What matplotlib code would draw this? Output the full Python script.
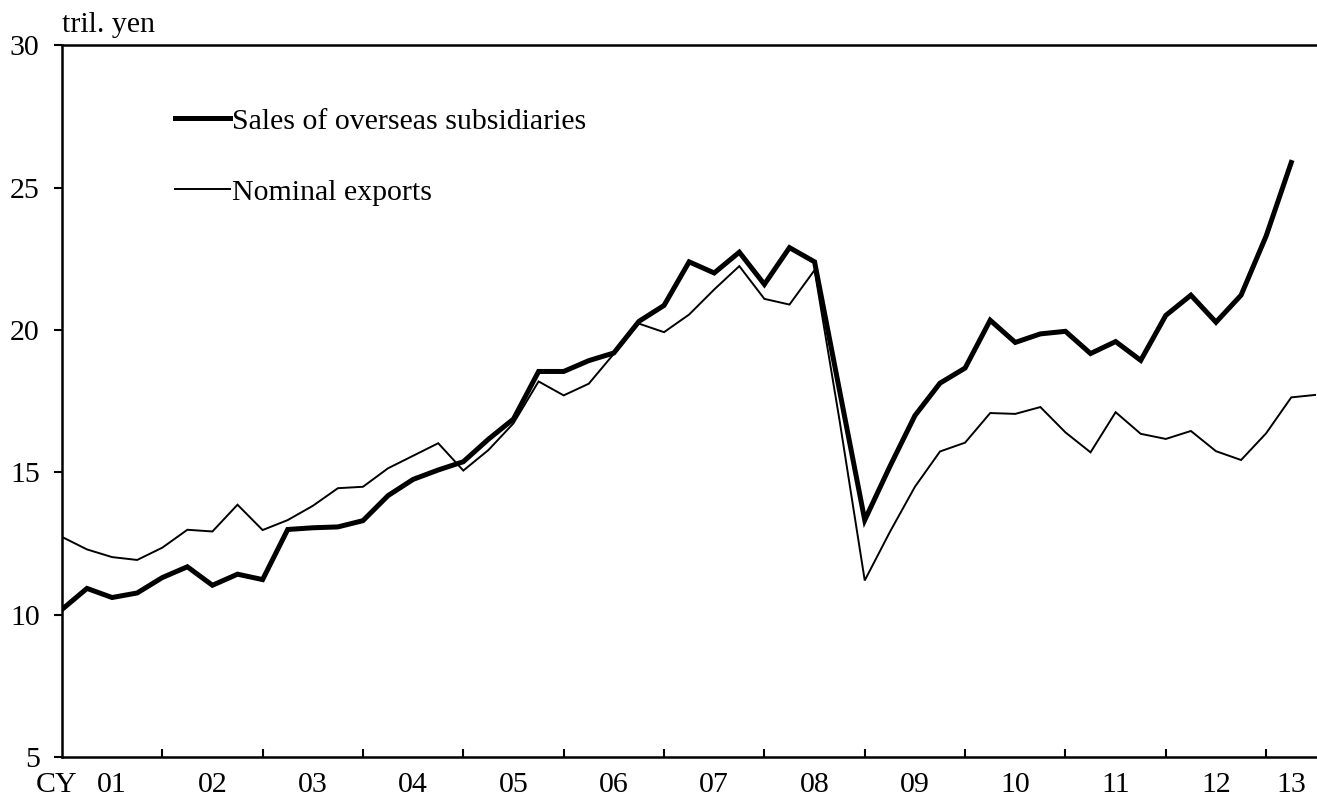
import matplotlib
matplotlib.use('Agg')
from matplotlib import pyplot as plt
import numpy as np

plt.rcParams['font.family'] = ['Liberation Serif', 'DejaVu Serif']

# quarterly data, CY2001 Q1 onwards (tril. yen)
sales_overseas = [10.18, 10.92, 10.60, 10.76, 11.30, 11.68, 11.03, 11.42,
                  11.23, 12.99, 13.05, 13.08, 13.30, 14.18, 14.75, 15.08,
                  15.37, 16.16, 16.87, 18.54, 18.54, 18.92, 19.19, 20.30,
                  20.86, 22.39, 22.00, 22.73, 21.60, 22.89, 22.39, 17.85,
                  13.32, 15.20, 16.99, 18.13, 18.66, 20.34, 19.56, 19.86,
                  19.95, 19.17, 19.59, 18.93, 20.51, 21.22, 20.27, 21.22,
                  23.30, 25.88]
nominal_exports = [12.73, 12.29, 12.02, 11.92, 12.35, 12.98, 12.92, 13.86,
                   12.97, 13.32, 13.82, 14.44, 14.49, 15.14, 15.58, 16.02,
                   15.06, 15.78, 16.72, 18.19, 17.70, 18.11, 19.16, 20.22,
                   19.92, 20.54, 21.42, 22.24, 21.09, 20.89, 22.10, 16.80,
                   11.20, 12.90, 14.49, 15.73, 16.04, 17.08, 17.05, 17.29,
                   16.40, 15.70, 17.11, 16.35, 16.17, 16.45, 15.74, 15.43,
                   16.37, 17.63, 17.72]
year_labels = ['01', '02', '03', '04', '05', '06', '07', '08', '09', '10',
               '11', '12', '13']
y_ticks = [5, 10, 15, 20, 25, 30]

fs = 21.5
fig = plt.figure(figsize=(13.17, 8.07), dpi=100)
ax = fig.add_axes([0.047, 0.062, 0.9525, 0.882])

ax.plot(np.arange(len(sales_overseas)), sales_overseas, color='black',
        lw=3.6, solid_joinstyle='miter', label='Sales of overseas subsidiaries')
ax.plot(np.arange(len(nominal_exports)), nominal_exports, color='black',
        lw=1.4, solid_joinstyle='miter', label='Nominal exports')

n_q = len(nominal_exports) - 1
ax.set_xlim(0, n_q)
ax.set_ylim(5, 30)

# year boundaries as ticks, labels in the middle of each year
ax.set_xticks(np.arange(4, n_q, 4))
ax.set_xticks([min(2 + 4 * k, (4 * k + n_q) / 2) for k in range(len(year_labels))], minor=True)
ax.set_xticklabels(year_labels, minor=True, fontsize=fs)
ax.tick_params(axis='x', which='major', direction='in', length=6, width=1.5, labelbottom=False)
ax.tick_params(axis='x', which='minor', length=0, pad=11)
ax.set_yticks(y_ticks)
ax.set_yticklabels([str(v) for v in y_ticks], fontsize=fs)
ax.tick_params(axis='y', direction='out', length=6, width=1.5, pad=10)

ax.annotate('CY', xy=(-0.2, 0), xycoords=('data', 'axes fraction'),
            xytext=(0, -11), textcoords='offset points',
            ha='center', va='top', fontsize=fs, annotation_clip=False)
ax.text(0, 1.01, 'tril. yen', transform=ax.transAxes, ha='left', va='bottom', fontsize=fs)

for s in ['left', 'bottom', 'top']:
    ax.spines[s].set_linewidth(1.8)
ax.spines['right'].set_visible(False)

ax.legend(loc='upper left', bbox_to_anchor=(0.09, 0.912), frameon=False,
          fontsize=fs, handlelength=1.85, handletextpad=0.07,
          labelspacing=1.48, borderpad=0, borderaxespad=0)

fig.savefig('out.png', dpi=100)
